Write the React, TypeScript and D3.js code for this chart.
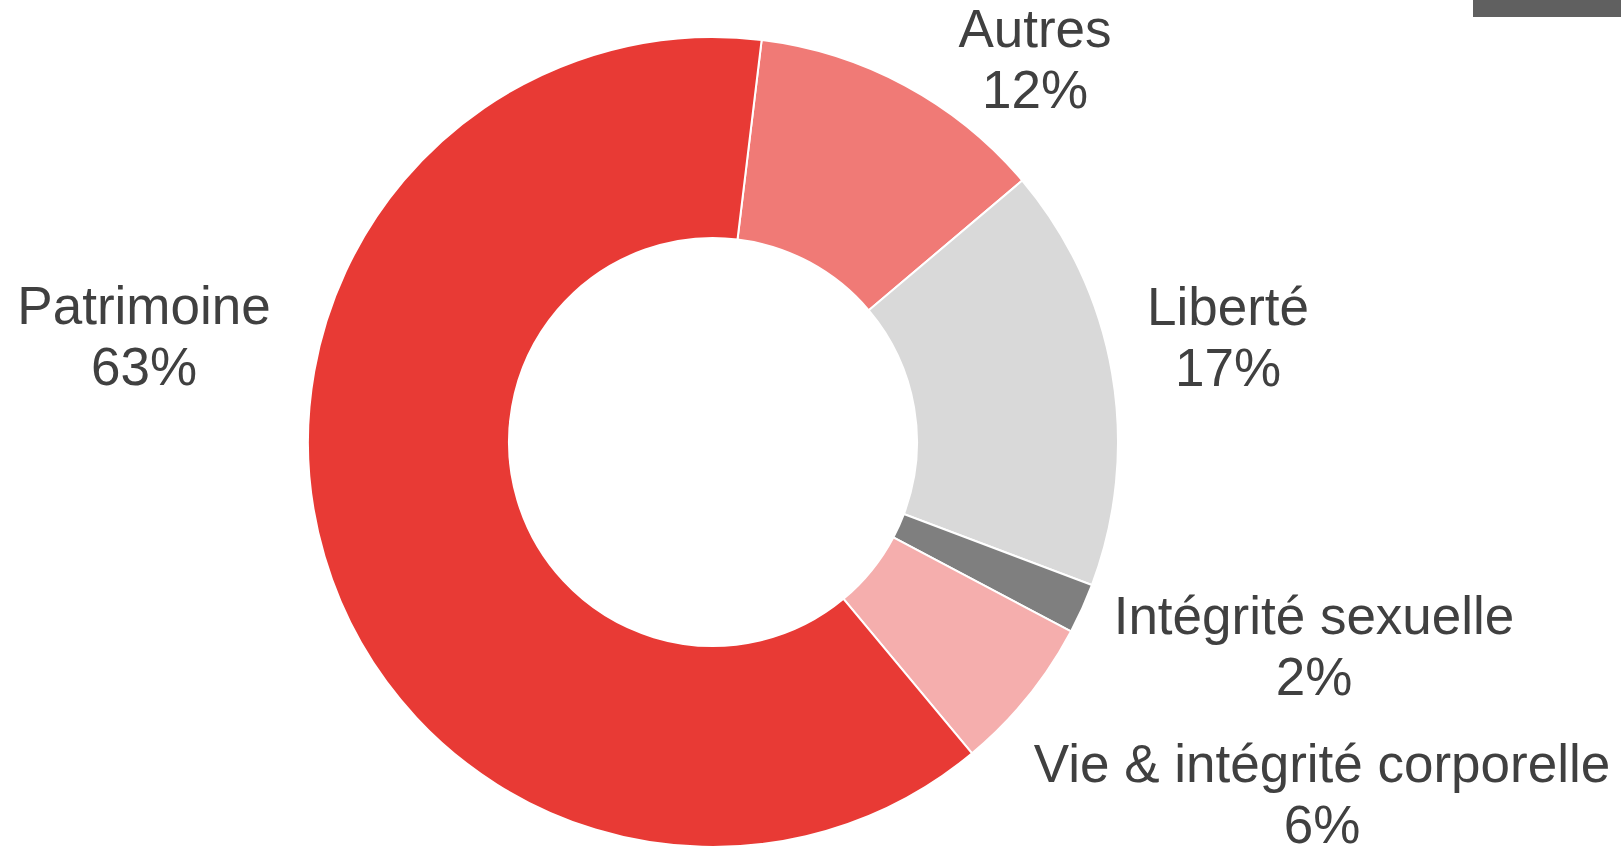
import React from "react";
import * as d3 from "d3";

const categories = ["Autres", "Liberté", "Intégrité sexuelle", "Vie & intégrité corporelle", "Patrimoine"];
const values = [11.9, 16.9, 2.0, 6.2, 62.9];
const pctLabels = ["12%", "17%", "2%", "6%", "63%"];
const colors = ["#F07A76", "#D9D9D9", "#7F7F7F", "#F5AEAD", "#E83A35"];
// label anchor (center x, first baseline y) per category
const labelPos: [number, number][] = [
  [1035, 47],
  [1228, 325],
  [1314, 634],
  [1322, 782],
  [144, 324],
];

export default function App() {
  const W = 1621, H = 848;
  const cx = 713, cy = 442, rOut = 405, rIn = 204;
  const startDeg = 6.9;
  const pie = d3.pie<number>().sort(null).value((d) => d)
    .startAngle((startDeg * Math.PI) / 180)
    .endAngle(((startDeg + 360) * Math.PI) / 180);
  const arcs = pie(values);
  const arc = d3.arc<d3.PieArcDatum<number>>().innerRadius(rIn).outerRadius(rOut);
  return (
    <svg width={W} height={H} style={{ position: "absolute", left: 0, top: 0, background: "#fff" }}>
      <rect x={1473} y={0} width={148} height={17} fill="#606060" />
      <g transform={`translate(${cx},${cy})`}>
        {arcs.map((a, i) => (
          <path key={i} d={arc(a) || ""} fill={colors[i]} stroke="#fff" strokeWidth={2} />
        ))}
      </g>
      {categories.map((c, i) => {
        const [x, y] = labelPos[i];
        return (
          <text key={c} x={x} textAnchor="middle" fill="#404040"
            style={{ fontFamily: "'Liberation Sans', Arial, sans-serif", fontSize: 53 }}>
            <tspan x={x} y={y}>{c}</tspan>
            <tspan x={x} y={y + 61}>{pctLabels[i]}</tspan>
          </text>
        );
      })}
    </svg>
  );
}
